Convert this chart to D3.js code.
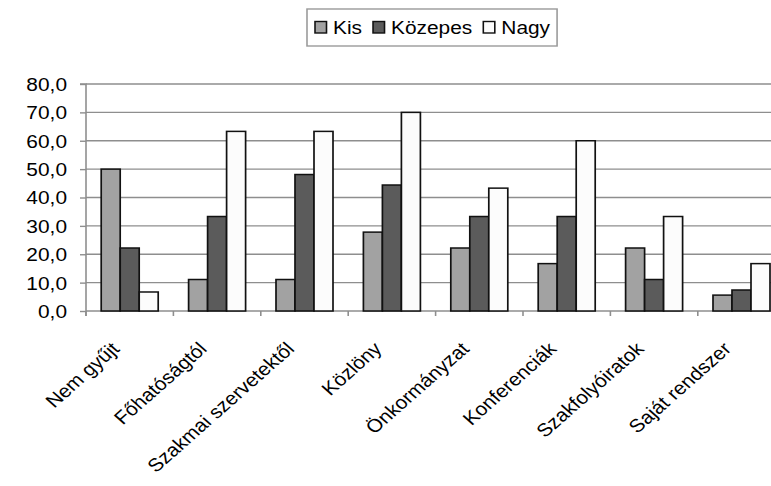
<!DOCTYPE html>
<html>
<head>
<meta charset="utf-8">
<script src="https://cdn.jsdelivr.net/npm/d3@7"></script>
<style>
html,body{margin:0;padding:0;background:#fff;}
svg{display:block;}
text{font-family:"Liberation Sans",Arial,sans-serif;fill:#000;}
</style>
</head>
<body>
<div id="chart"></div>
<script>
const categories = ["Nem gyűjt","Főhatóságtól","Szakmai szervetektől","Közlöny","Önkormányzat","Konferenciák","Szakfolyóiratok","Saját rendszer"];
const series = ["Kis","Közepes","Nagy"];
const kis = [50.0,11.1,11.1,27.8,22.2,16.7,22.2,5.6];
const kozepes = [22.2,33.3,48.1,44.4,33.3,33.3,11.1,7.4];
const nagy = [6.7,63.3,63.3,70.0,43.3,60.0,33.3,16.7];
const yTicks = [0,10,20,30,40,50,60,70,80];
const colors = ["#a2a2a2","#5b5b5b","#fcfcfc"];

const W = 771, H = 486;
const S = 1.13;               // horizontal stretch of the original picture
const px = v => v / S;        // screen x -> viewBox x
const FS = 18.5;

const svg = d3.select("#chart").append("svg")
  .attr("width", W).attr("height", H)
  .attr("viewBox", `0 0 ${W/S} ${H}`)
  .attr("preserveAspectRatio", "none");

const values = [kis, kozepes, nagy];
const data = categories.map((c,i) => ({cat:c, vals: series.map((s,j)=>({s, v: values[j][i], j}))}));

const x = d3.scaleBand().domain(categories).range([px(86), px(86 + 8*87.4)]).paddingInner(0).paddingOuter(0);
const x1 = d3.scaleBand().domain(series).range([0, x.bandwidth()]).paddingInner(0).paddingOuter(0.8);
const y = d3.scaleLinear().domain([0,80]).range([311, 84]);
const color = d3.scaleOrdinal().domain(series).range(colors);

const plotRight = W / S;

// gridlines
svg.append("g").selectAll("line").data(yTicks.filter(d=>d>0)).join("line")
  .attr("x1", x.range()[0]).attr("x2", plotRight)
  .attr("y1", d=>y(d)).attr("y2", d=>y(d))
  .attr("stroke", "#8e8e8e").attr("stroke-width", 1.4);

// y axis
const yAxis = svg.append("g").attr("transform", `translate(${x.range()[0]},0)`)
  .call(d3.axisLeft(y).tickValues(yTicks).tickSize(px(6)).tickPadding(px(13))
        .tickFormat(d => d.toFixed(1).replace(".", ",")));
yAxis.select(".domain").attr("stroke", "#8e8e8e").attr("stroke-width", 1.4).attr("d", `M${-px(6)},${y(80)}H0V${y(0)+5}`);
yAxis.selectAll(".tick line").attr("stroke", "#8e8e8e").attr("stroke-width", 1.4);
yAxis.selectAll(".tick text").attr("font-size", FS).attr("fill", "#000")
  .attr("font-family", '"Liberation Sans",Arial,sans-serif').attr("dy", "0.35em");

// x axis line
svg.append("line").attr("x1", x.range()[0]).attr("x2", plotRight)
  .attr("y1", y(0)).attr("y2", y(0)).attr("stroke", "#8e8e8e").attr("stroke-width", 1.4);
// category tick marks at band boundaries
svg.append("g").selectAll("line").data(categories).join("line")
  .attr("x1", d=>x(d)).attr("x2", d=>x(d))
  .attr("y1", y(0)).attr("y2", y(0)+5)
  .attr("stroke", "#8e8e8e").attr("stroke-width", 1.4);

// bars
const groups = svg.append("g").selectAll("g").data(data).join("g")
  .attr("transform", d => `translate(${x(d.cat)},0)`);
groups.selectAll("rect").data(d=>d.vals).join("rect")
  .attr("x", d => x1(d.s)).attr("width", x1.bandwidth())
  .attr("y", d => y(d.v)).attr("height", d => y(0) - y(d.v))
  .attr("fill", d => color(d.s)).attr("stroke", "#111").attr("stroke-width", 1.5);

// category labels
svg.append("g").selectAll("text").data(categories).join("text")
  .attr("transform", d => `translate(${x(d) + x.bandwidth()/2 - px(9)},350) rotate(-45)`)
  .attr("text-anchor", "end").attr("font-size", FS).text(d=>d);

// legend
const leg = svg.append("g");
const box = leg.append("rect").attr("y", 9).attr("height", 37)
  .attr("fill", "#fff").attr("stroke", "#9a9a9a").attr("stroke-width", 1.4);
let cx = px(315);
series.forEach((s,i) => {
  leg.append("rect").attr("x", cx).attr("y", 21.5).attr("width", px(11.5)).attr("height", 11.5)
    .attr("fill", colors[i]).attr("stroke", "#111").attr("stroke-width", 1.4);
  const t = leg.append("text").attr("x", cx + px(18)).attr("y", 34).attr("font-size", FS).text(s);
  const w = t.node().getComputedTextLength();
  cx = cx + px(18) + w + px(11);
});
box.attr("x", px(307)).attr("width", cx - px(11) + px(7) - px(307));
</script>
</body>
</html>
